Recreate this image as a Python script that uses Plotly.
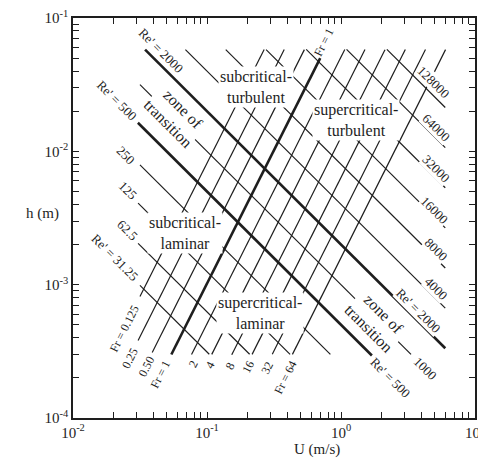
import math
import plotly.graph_objects as go

# physical constants used by the diagram
g = 9.81
nu = 1.0e-6

# Froude-number lines (h = U^2 / (g*Fr)), U extents
fr_values = [0.125, 0.25, 0.5, 1, 2, 4, 8, 16, 32, 64]
fr_u_start = [0.0316, 0.0306, 0.039, 0.0542, 0.0767, 0.1085, 0.153, 0.217, 0.307, 0.434]
fr_u_end = [0.267, 0.377, 0.533, 0.70, 1.067, 1.51, 2.13, 3.02, 4.27, 6.03]

# Reynolds-number lines (h = Re*nu / U), U extents
re_values = [31.25, 62.5, 125, 250, 500, 1000, 2000, 4000, 8000, 16000, 32000, 64000, 128000]
re_u_start = [0.0316, 0.0306, 0.0306, 0.0316, 0.0305, 0.0316, 0.0345, 0.069, 0.138, 0.276, 0.55, 1.1, 2.2]
re_u_end = [0.104, 0.208, 0.417, 0.833, 1.70, 3.33, 6.0, 6.0, 6.0, 6.0, 6.0, 6.0, 6.0]

heavy_fr = [1]
heavy_re = [500, 2000]

# axis ticks (decades labelled, digits 2..9 as unlabelled ticks)
x_decades = [0.01, 0.1, 1, 10]
x_decade_text = ["10<sup>-2</sup>", "10<sup>-1</sup>", "10<sup>0</sup>", "10<sup>1</sup>"]
y_decades = [1e-4, 1e-3, 1e-2, 1e-1]
y_decade_text = ["10<sup>-4</sup>", "10<sup>-3</sup>", "10<sup>-2</sup>", "10<sup>-1</sup>"]
digits = [2, 3, 4, 5, 6, 7, 8, 9]

# line labels
fr_label_text = ["Fr = 0.125", "0.25", "0.50", "Fr = 1", "2", "4", "8", "16", "32", "Fr = 64", "Fr = 1"]
fr_label_u = [0.0240, 0.0266, 0.0351, 0.0446, 0.0787, 0.1052, 0.1484, 0.2023, 0.2804, 0.382, 0.746]
fr_label_h = [4.67e-4, 2.83e-4, 2.42e-4, 2.10e-4, 2.55e-4, 2.50e-4, 2.46e-4, 2.42e-4, 2.38e-4, 2.0e-4, 0.066]

re_label_text = ["Re' = 31.25", "62.5", "125", "250", "Re' = 500", "Re' = 2000",
                 "128000", "64000", "32000", "16000", "8000", "4000",
                 "Re' = 2000", "1000", "Re' = 500"]
re_label_u = [0.0206, 0.0257, 0.0257, 0.0249, 0.0213, 0.0454,
              4.94, 5.12, 5.12, 5.0, 5.12, 5.12,
              3.76, 4.24, 2.32]
re_label_h = [1.60e-3, 2.55e-3, 5.09e-3, 9.33e-3, 0.0242, 0.0575,
              0.0330, 0.0151, 7.45e-3, 3.60e-3, 1.83e-3, 9.33e-4,
              6.38e-4, 2.34e-4, 2.0e-4]

region_text = ["subcritical-<br>turbulent", "supercritical-<br>turbulent",
               "subcritical-<br>laminar", "supercritical-<br>laminar"]
region_u = [0.232, 1.294, 0.0686, 0.249]
region_h = [0.0303, 0.0171, 2.42e-3, 6.15e-4]

zone_u = [0.0577, 1.823]
zone_h = [0.0183, 5.36e-4]

INK = "#1e1e1e"
FONT = "Liberation Serif"
L = math.log10

fig = go.Figure()

for F, u0, u1 in zip(fr_values, fr_u_start, fr_u_end):
    us = [u0, u1]
    hs = [u * u / (g * F) for u in us]
    fig.add_trace(go.Scatter(x=us, y=hs, mode="lines", showlegend=False, hoverinfo="skip",
                             line=dict(color=INK, width=2.6 if F in heavy_fr else 1.2)))

for R, u0, u1 in zip(re_values, re_u_start, re_u_end):
    us = [u0, u1]
    hs = [R * nu / u for u in us]
    fig.add_trace(go.Scatter(x=us, y=hs, mode="lines", showlegend=False, hoverinfo="skip",
                             line=dict(color=INK, width=2.6 if R in heavy_re else 1.2)))

annotations = []
for t, u, h in zip(region_text, region_u, region_h):
    annotations.append(dict(x=L(u), y=L(h), xref="x", yref="y", text=t, showarrow=False,
                            font=dict(family=FONT, size=16, color=INK),
                            bgcolor="white", borderpad=1))
for u, h in zip(zone_u, zone_h):
    annotations.append(dict(x=L(u), y=L(h), xref="x", yref="y", text="zone of<br>transition",
                            showarrow=False, textangle=45,
                            font=dict(family=FONT, size=16, color=INK),
                            bgcolor="white", borderpad=0))
for t, u, h in zip(fr_label_text, fr_label_u, fr_label_h):
    annotations.append(dict(x=L(u), y=L(h), xref="x", yref="y", text=t, showarrow=False,
                            textangle=-63, font=dict(family=FONT, size=12, color=INK),
                            bgcolor="white", borderpad=0))
for t, u, h in zip(re_label_text, re_label_u, re_label_h):
    annotations.append(dict(x=L(u), y=L(h), xref="x", yref="y", text=t, showarrow=False,
                            textangle=45, font=dict(family=FONT, size=13, color=INK),
                            bgcolor="white", borderpad=0))

annotations.append(dict(x=0.669, y=-0.105, xref="paper", yref="paper", text="U (m/s)",
                        showarrow=False, font=dict(family=FONT, size=15, color=INK)))
annotations.append(dict(x=-0.122, y=0.5125, xref="paper", yref="paper", text="h (m)",
                        showarrow=False, font=dict(family=FONT, size=15, color=INK)))

# grid lines at the inner decades
shapes = []
for v in x_decades[1:-1]:
    shapes.append(dict(type="line", xref="x", yref="paper", x0=L(v), x1=L(v), y0=0, y1=1,
                       line=dict(color=INK, width=1.1), layer="below"))
for v in y_decades[1:-1]:
    shapes.append(dict(type="line", xref="paper", yref="y", x0=0, x1=1, y0=L(v), y1=L(v),
                       line=dict(color=INK, width=1.1), layer="below"))


def tick_set(decades, labels):
    vals, text = [], []
    for d, lab in zip(decades, labels):
        vals.append(d)
        text.append(lab)
        if d != decades[-1]:
            for k in digits:
                vals.append(d * k)
                text.append("")
    return vals, text


xv, xt = tick_set(x_decades, x_decade_text)
yv, yt = tick_set(y_decades, y_decade_text)

axis_common = dict(
    type="log", showline=True, linecolor=INK, linewidth=1.5, mirror="ticks",
    ticks="inside", ticklen=6, tickcolor=INK, tickwidth=1.1,
    showgrid=False, zeroline=False, tickmode="array", automargin=False,
    ticklabeloverflow="allow",
    tickfont=dict(family=FONT, size=15, color=INK),
)

# the page body adds an 8 px offset, so the figure is 8 px smaller and shifted
fig.update_layout(
    width=478, height=463,
    margin=dict(l=65, r=11, t=10, b=53),
    paper_bgcolor="white", plot_bgcolor="white",
    xaxis=dict(range=[-2, 1], tickvals=xv, ticktext=xt, **axis_common),
    yaxis=dict(range=[-4, -1], tickvals=yv, ticktext=yt, **axis_common),
    annotations=annotations,
    shapes=shapes,
    showlegend=False,
)

fig.write_html("out.html")
